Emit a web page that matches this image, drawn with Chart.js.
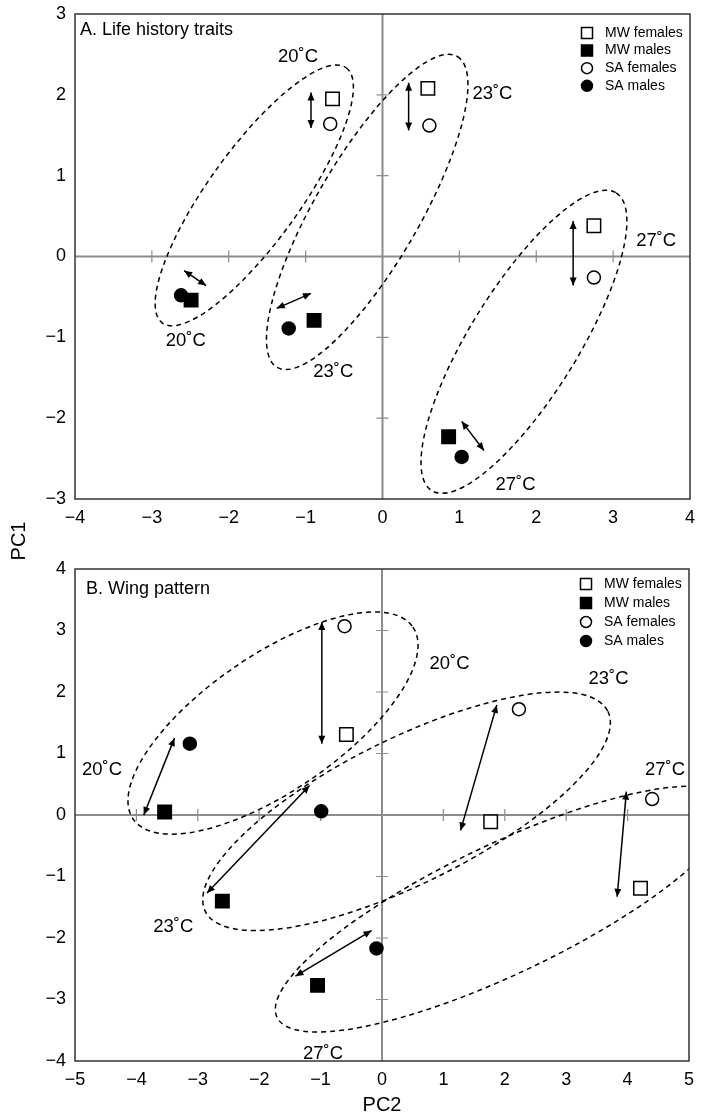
<!DOCTYPE html>
<html>
<head>
<meta charset="utf-8">
<script src="https://cdn.jsdelivr.net/npm/chart.js@4.4.1/dist/chart.umd.min.js"></script>
<style>
  body { margin: 0; background: #fff; }
  #wrap { position: relative; width: 701px; height: 1117px; font-family: "Liberation Sans", Arial, sans-serif; }
  #lifeChart { position: absolute; left: 0; top: 0; }
  #wingChart { position: absolute; left: 0; top: 545px; }
  .axTitle { position: absolute; font-size: 20px; color: #000; text-align: center; line-height: 24px; }
  #pc1 { left: -22px; top: 529px; width: 80px; transform: rotate(-90deg); }
  #pc2 { left: 332px; top: 1092px; width: 100px; }
</style>
</head>
<body>
<div id="wrap">
  <canvas id="lifeChart" width="701" height="545"></canvas>
  <canvas id="wingChart" width="701" height="572"></canvas>
  <div class="axTitle" id="pc1">PC1</div>
  <div class="axTitle" id="pc2">PC2</div>
</div>
<script>
// Series names
const seriesNames = ["MW females", "MW males", "SA females", "SA males"];

// A. Life history traits: [PC2, PC1] for 20, 23, 27 °C
const lifeMwFemales = [[-0.65, 1.95], [0.59, 2.08], [2.75, 0.38]];
const lifeMwMales = [[-2.49, -0.54], [-0.89, -0.79], [0.86, -2.23]];
const lifeSaFemales = [[-0.68, 1.64], [0.61, 1.62], [2.75, -0.26]];
const lifeSaMales = [[-2.62, -0.48], [-1.22, -0.89], [1.03, -2.48]];

// B. Wing pattern
const wingMwFemales = [[-0.58, 1.31], [1.77, -0.11], [4.21, -1.19]];
const wingMwMales = [[-3.54, 0.05], [-2.60, -1.40], [-1.05, -2.77]];
const wingSaFemales = [[-0.61, 3.07], [2.23, 1.72], [4.40, 0.26]];
const wingSaMales = [[-3.13, 1.16], [-0.99, 0.06], [-0.09, -2.17]];

// axis ranges
const lifeXRange = [-4, 4];
const lifeYRange = [-3, 3];
const wingXRange = [-5, 5];
const wingYRange = [-4, 4];

// double arrows [x1, y1, x2, y2]
const lifeArrows = [
	[-0.93, 2.03, -0.93, 1.59],
	[-2.58, -0.175, -2.295, -0.36],
	[0.34, 2.15, 0.34, 1.56],
	[-1.376, -0.641, -0.93, -0.456],
	[2.48, 0.44, 2.48, -0.36],
	[1.03, -2.04, 1.32, -2.40],
];
const wingArrows = [
	[-0.98, 3.14, -0.98, 1.16],
	[-3.88, 0.0, -3.38, 1.25],
	[1.28, -0.25, 1.87, 1.79],
	[-2.85, -1.27, -1.18, 0.48],
	[3.83, -1.33, 3.98, 0.38],
	[-1.41, -2.62, -0.17, -1.88],
];

// dashed ellipses [centreX, centreY, majorTipX, majorTipY, minor/major]
const lifeEllipses = [
	[-1.668, 0.756, -0.473, 2.335, 0.292],
	[-0.199, 0.551, 0.973, 2.474, 0.29],
	[1.84, -1.055, 3.039, 0.787, 0.308],
];
const wingEllipses = [
	[-1.775, 1.495, 0.503, 3.056, 0.40],
	[0.40, 0.06, 3.678, 1.687, 0.322],
	[1.98, -1.53, 5.67, 0.23, 0.257],
];

// temperature labels [text, x, y]
const lifeLabels = [
	["20˚C", -1.1, 2.47], ["23˚C", 1.43, 2.01], ["27˚C", 3.56, 0.19],
	["20˚C", -2.56, -1.05], ["23˚C", -0.64, -1.43], ["27˚C", 1.73, -2.82],
];
const wingLabels = [
	["20˚C", 1.1, 2.45], ["23˚C", 3.69, 2.21], ["27˚C", 4.61, 0.74],
	["20˚C", -4.56, 0.74], ["23˚C", -3.4, -1.82], ["27˚C", -0.96, -3.88],
];

const FONT = '"Liberation Sans", Arial, sans-serif';

function drawArrowHead(ctx, fx, fy, tx, ty) {
	const ang = Math.atan2(ty - fy, tx - fx);
	const len = 8, half = 3.5;
	ctx.beginPath();
	ctx.moveTo(tx, ty);
	ctx.lineTo(tx - len * Math.cos(ang) + half * Math.sin(ang), ty - len * Math.sin(ang) - half * Math.cos(ang));
	ctx.lineTo(tx - len * Math.cos(ang) - half * Math.sin(ang), ty - len * Math.sin(ang) + half * Math.cos(ang));
	ctx.closePath();
	ctx.fill();
}

function drawLegendMarker(ctx, i, x, y) {
	const s = 5.5;
	ctx.lineWidth = 1.5;
	ctx.strokeStyle = "#000";
	ctx.fillStyle = i % 2 === 0 ? "#fff" : "#000";
	ctx.beginPath();
	if (i < 2) ctx.rect(x - s, y - s, 2 * s, 2 * s);
	else ctx.arc(x, y, s, 0, Math.PI * 2);
	ctx.fill();
	ctx.stroke();
}

const overlayPlugin = {
	id: "overlay",
	beforeDatasetsDraw(chart, args, o) {
		const { ctx, chartArea: a } = chart;
		const xs = chart.scales.x, ys = chart.scales.y;
		const X = (v) => xs.getPixelForValue(v);
		const Y = (v) => ys.getPixelForValue(v);
		ctx.save();

		// zero lines with tick marks
		const x0 = X(0), y0 = Y(0);
		ctx.strokeStyle = "#8c8c8c";
		ctx.lineWidth = 2;
		ctx.beginPath();
		ctx.moveTo(a.left, y0); ctx.lineTo(a.right, y0);
		ctx.moveTo(x0, a.top); ctx.lineTo(x0, a.bottom);
		ctx.stroke();
		ctx.lineWidth = 1.2;
		ctx.beginPath();
		for (let v = xs.min + 1; v < xs.max; v++) {
			if (v === 0) continue;
			ctx.moveTo(X(v), y0 - 6); ctx.lineTo(X(v), y0 + 6);
		}
		for (let v = ys.min + 1; v < ys.max; v++) {
			if (v === 0) continue;
			ctx.moveTo(x0 - 6, Y(v)); ctx.lineTo(x0 + 6, Y(v));
		}
		ctx.stroke();

		// dashed ellipses
		ctx.save();
		ctx.beginPath();
		ctx.rect(a.left, a.top, a.width, a.height);
		ctx.clip();
		ctx.strokeStyle = "#000";
		ctx.lineWidth = 1.5;
		ctx.setLineDash([5, 4]);
		o.ellipses.forEach(([cx, cy, tx, ty, r]) => {
			const px = X(cx), py = Y(cy);
			const dx = X(tx) - px, dy = Y(ty) - py;
			const major = Math.hypot(dx, dy);
			ctx.beginPath();
			ctx.ellipse(px, py, major, major * r, Math.atan2(dy, dx), 0, Math.PI * 2);
			ctx.stroke();
		});
		ctx.restore();

		// double arrows
		ctx.strokeStyle = "#000";
		ctx.fillStyle = "#000";
		ctx.lineWidth = 1.5;
		o.arrows.forEach(([x1, y1, x2, y2]) => {
			const ax = X(x1), ay = Y(y1), bx = X(x2), by = Y(y2);
			ctx.beginPath();
			ctx.moveTo(ax, ay); ctx.lineTo(bx, by);
			ctx.stroke();
			drawArrowHead(ctx, ax, ay, bx, by);
			drawArrowHead(ctx, bx, by, ax, ay);
		});

		// temperature labels
		ctx.font = "18.5px " + FONT;
		ctx.textAlign = "center";
		ctx.textBaseline = "middle";
		o.labels.forEach(([t, x, y]) => ctx.fillText(t, X(x), Y(y)));

		// panel title
		ctx.font = "18px " + FONT;
		ctx.textAlign = "left";
		ctx.fillText(o.title, a.left + o.titleX, a.top + o.titleY);

		// legend
		ctx.font = "14px " + FONT;
		seriesNames.forEach((name, i) => {
			const ly = a.top + o.legendY + i * o.legendDy;
			drawLegendMarker(ctx, i, a.right - 103, ly);
			ctx.fillStyle = "#000";
			ctx.fillText(name, a.right - 85, ly);
		});

		// frame
		ctx.strokeStyle = "#333";
		ctx.lineWidth = 1.5;
		ctx.strokeRect(a.left, a.top, a.width, a.height);
		ctx.restore();
	},
};

function makeDataset(label, points, style, filled) {
	return {
		label: label,
		data: points.map(([x, y]) => ({ x: x, y: y })),
		pointStyle: style,
		pointRadius: style === "rect" ? 9.5 : 6.5,
		pointBorderWidth: 1.5,
		pointBorderColor: "#000",
		pointBackgroundColor: filled ? "#000" : "#fff",
		showLine: false,
	};
}

function minusLabel(v) {
	return v < 0 ? "\u2212" + Math.abs(v) : String(v);
}

function makeScale(range, isX) {
	return {
		type: "linear",
		min: range[0],
		max: range[1],
		grid: { display: false, drawTicks: false },
		border: { display: false },
		ticks: {
			stepSize: 1,
			color: "#000",
			padding: isX ? 8 : 9,
			font: { size: 18, family: FONT },
			maxRotation: 0,
			callback: minusLabel,
		},
		afterFit: function (scale) {
			if (isX) scale.height = 30;
			else scale.width = 75;
			// no extra room for overhanging labels
			scale.paddingTop = 0;
			scale.paddingBottom = 0;
			scale.paddingLeft = 0;
			scale.paddingRight = 0;
		},
	};
}

function buildChart(id, sets, xRange, yRange, padding, overlay) {
	new Chart(document.getElementById(id).getContext("2d"), {
		type: "scatter",
		data: {
			datasets: [
				makeDataset(seriesNames[0], sets[0], "rect", false),
				makeDataset(seriesNames[1], sets[1], "rect", true),
				makeDataset(seriesNames[2], sets[2], "circle", false),
				makeDataset(seriesNames[3], sets[3], "circle", true),
			],
		},
		options: {
			responsive: false,
			animation: false,
			devicePixelRatio: 1,
			layout: { padding: padding, autoPadding: false },
			plugins: {
				legend: { display: false },
				tooltip: { enabled: false },
				overlay: overlay,
			},
			scales: {
				x: makeScale(xRange, true),
				y: makeScale(yRange, false),
			},
		},
		plugins: [overlayPlugin],
	});
}

document.addEventListener("DOMContentLoaded", function () {
	buildChart(
		"lifeChart",
		[lifeMwFemales, lifeMwMales, lifeSaFemales, lifeSaMales],
		lifeXRange,
		lifeYRange,
		{ top: 14, left: 0, right: 11, bottom: 16 },
		{
			ellipses: lifeEllipses,
			arrows: lifeArrows,
			labels: lifeLabels,
			title: "A. Life history traits",
			titleX: 5,
			titleY: 16,
			legendY: 19,
			legendDy: 17.6,
		}
	);
	buildChart(
		"wingChart",
		[wingMwFemales, wingMwMales, wingSaFemales, wingSaMales],
		wingXRange,
		wingYRange,
		{ top: 24, left: 0, right: 12, bottom: 26 },
		{
			ellipses: wingEllipses,
			arrows: wingArrows,
			labels: wingLabels,
			title: "B. Wing pattern",
			titleX: 11,
			titleY: 20,
			legendY: 15,
			legendDy: 19,
		}
	);
});
</script>
</body>
</html>
